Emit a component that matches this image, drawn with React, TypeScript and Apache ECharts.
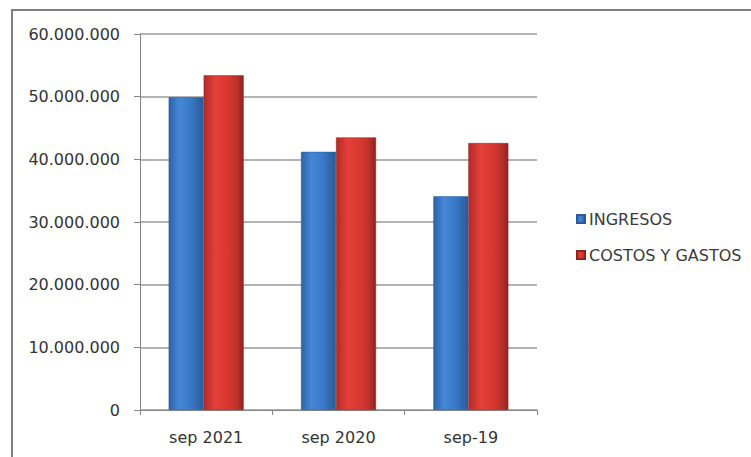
import React, { useEffect, useRef } from "react";
import * as echarts from "echarts";

const categories = ["sep 2021", "sep 2020", "sep-19"];
const ingresos = [49900000, 41200000, 34100000];
const costosGastos = [53400000, 43500000, 42600000];
const seriesNames = ["INGRESOS", "COSTOS Y GASTOS"];

const fmt = (v: number) => String(v).replace(/\B(?=(\d{3})+(?!\d))/g, ".");

const blueGrad = new echarts.graphic.LinearGradient(0, 0, 1, 0, [
  { offset: 0, color: "#2c63a8" },
  { offset: 0.3, color: "#4587d6" },
  { offset: 0.6, color: "#3b7acb" },
  { offset: 1, color: "#2a5a99" },
]);
const redGrad = new echarts.graphic.LinearGradient(0, 0, 1, 0, [
  { offset: 0, color: "#b42a26" },
  { offset: 0.3, color: "#e4403a" },
  { offset: 0.65, color: "#d5362f" },
  { offset: 0.85, color: "#b8302b" },
  { offset: 1, color: "#8e2320" },
]);

export default function App() {
  const ref = useRef<HTMLDivElement>(null);
  useEffect(() => {
    const chart = echarts.init(ref.current!, null, { renderer: "svg" });
    chart.setOption({
      animation: false,
      backgroundColor: "#ffffff",
      textStyle: { fontFamily: "DejaVu Sans, Verdana, sans-serif" },
      graphic: [
        {
          type: "rect",
          shape: { x: 12, y: 10, width: 800, height: 500 },
          style: { fill: "none", stroke: "#7f7f7f", lineWidth: 2 },
          silent: true,
        },
      ],
      grid: { left: 140, right: 214, top: 34, bottom: 47, containLabel: false },
      legend: {
        orient: "vertical",
        left: 571,
        top: 206,
        itemWidth: 8,
        itemHeight: 8,
        itemGap: 20,
        icon: "rect",
        textStyle: { fontSize: 16, color: "#3a3a3a", padding: [0, 0, 0, -1] },
        data: seriesNames,
      },
      xAxis: {
        type: "category",
        data: categories,
        axisLine: { lineStyle: { color: "#868686", width: 1 } },
        axisTick: { show: true, length: 5, lineStyle: { color: "#868686" }, alignWithLabel: false },
        axisLabel: { fontSize: 16, color: "#333333", margin: 19 },
      },
      yAxis: {
        type: "value",
        min: 0,
        max: 60000000,
        interval: 10000000,
        axisLine: { show: true, lineStyle: { color: "#868686" } },
        axisTick: { show: true, length: 6, lineStyle: { color: "#868686" } },
        axisLabel: { fontSize: 16, color: "#333333", margin: 20, formatter: (v: number) => fmt(v) },
        splitLine: { lineStyle: { color: "#9a9a9a", width: 1.5 } },
      },
      series: [
        {
          name: seriesNames[0],
          type: "bar",
          data: ingresos,
          barWidth: 35,
          barGap: "0%",
          itemStyle: { color: blueGrad, borderColor: "#2a5a99", borderWidth: 0.5 },
        },
        {
          name: seriesNames[1],
          type: "bar",
          data: costosGastos,
          barWidth: 40,
          barGap: "0%",
          itemStyle: { color: redGrad, borderColor: "#8e2320", borderWidth: 0.5 },
        },
      ],
    });
    return () => chart.dispose();
  }, []);
  return (
    <div
      ref={ref}
      style={{ position: "fixed", left: 0, top: 0, width: 751, height: 457 }}
    />
  );
}
